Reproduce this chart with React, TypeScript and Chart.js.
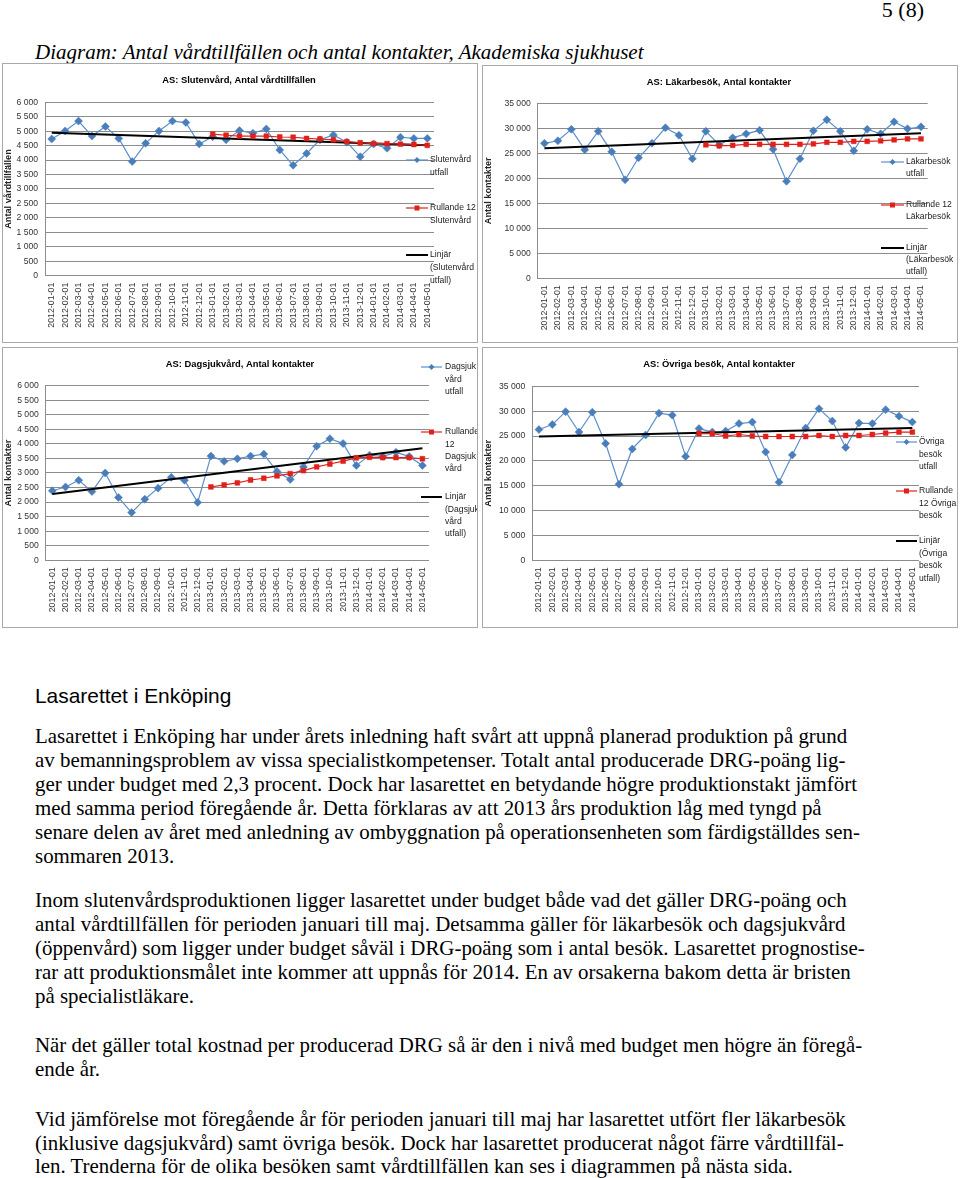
import React, { useEffect, useRef } from 'react';
import { Chart, registerables } from 'chart.js';

Chart.register(...registerables);

// ---------- data ----------
const months = [
  '2012-01-01', '2012-02-01', '2012-03-01', '2012-04-01', '2012-05-01', '2012-06-01',
  '2012-07-01', '2012-08-01', '2012-09-01', '2012-10-01', '2012-11-01', '2012-12-01',
  '2013-01-01', '2013-02-01', '2013-03-01', '2013-04-01', '2013-05-01', '2013-06-01',
  '2013-07-01', '2013-08-01', '2013-09-01', '2013-10-01', '2013-11-01', '2013-12-01',
  '2014-01-01', '2014-02-01', '2014-03-01', '2014-04-01', '2014-05-01',
];
// rolling 12-month values start at 2013-01-01
const rollingStartIndex = 12;

const slutenUtfall = [4730, 5010, 5350, 4830, 5160, 4750, 3950, 4580, 5010, 5350, 5300, 4560, 4810, 4700, 5020, 4930, 5080, 4350, 3820, 4230, 4700, 4870, 4620, 4120, 4560, 4410, 4790, 4750, 4750];
const slutenRullande = [4900, 4860, 4830, 4830, 4830, 4800, 4790, 4750, 4730, 4700, 4640, 4600, 4570, 4570, 4550, 4540, 4510];
const slutenTrend = [4950, 4510];

const lakarUtfall = [27000, 27500, 29800, 25700, 29400, 25300, 19700, 24100, 27000, 30100, 28600, 23900, 29400, 26700, 28100, 28900, 29600, 25800, 19400, 23900, 29500, 31700, 29400, 25500, 29800, 28900, 31300, 29900, 30300];
const lakarRullande = [26700, 26500, 26600, 26800, 26800, 26800, 26800, 26800, 26900, 27200, 27200, 27400, 27400, 27500, 27700, 27900, 27900];
const lakarTrend = [26000, 29000];

const dagsUtfall = [2390, 2520, 2750, 2360, 3000, 2160, 1640, 2100, 2480, 2850, 2750, 1990, 3580, 3400, 3490, 3580, 3650, 3050, 2780, 3210, 3920, 4180, 4010, 3260, 3610, 3570, 3710, 3570, 3260];
const dagsRullande = [2520, 2590, 2660, 2760, 2820, 2900, 2980, 3080, 3210, 3310, 3410, 3520, 3540, 3530, 3530, 3530, 3490];
const dagsTrend = [2280, 3850];

const ovrigaUtfall = [26300, 27300, 29900, 25800, 29800, 23500, 15300, 22400, 25200, 29600, 29200, 20900, 26500, 25800, 26000, 27500, 27800, 21800, 15700, 21200, 26600, 30500, 28000, 22700, 27600, 27500, 30300, 29000, 27800];
const ovrigaRullande = [25500, 25500, 25000, 25300, 25000, 24900, 24900, 24900, 24900, 25100, 24900, 25100, 25100, 25300, 25600, 25800, 25800];
const ovrigaTrend = [24900, 26600];

const titles = [
  'AS: Slutenvård, Antal vårdtillfällen',
  'AS: Läkarbesök, Antal kontakter',
  'AS: Dagsjukvård, Antal kontakter',
  'AS: Övriga besök, Antal kontakter',
];
const yTitles = ['Antal vårdtillfällen', 'Antal kontakter', 'Antal kontakter', 'Antal kontakter'];
const yMaxes = [6000, 35000, 6000, 35000];
const ySteps = [500, 5000, 500, 5000];

const legendLines1 = [['Slutenvård', 'utfall'], ['Rullande 12', 'Slutenvård'], ['Linjär', '(Slutenvård', 'utfall)']];
const legendLines2 = [['Läkarbesök', 'utfall'], ['Rullande 12', 'Läkarbesök'], ['Linjär', '(Läkarbesök', 'utfall)']];
const legendLines3 = [['Dagsjuk', 'vård', 'utfall'], ['Rullande', '12', 'Dagsjuk', 'vård'], ['Linjär', '(Dagsjuk', 'vård', 'utfall)']];
const legendLines4 = [['Övriga', 'besök', 'utfall'], ['Rullande', '12 Övriga', 'besök'], ['Linjär', '(Övriga', 'besök', 'utfall)']];

// ---------- styling / layout ----------
const SANS = "'Liberation Sans', Arial, sans-serif";
const SERIF = "'Liberation Serif', 'Times New Roman', serif";
const BLUE = '#4a7ebb';
const BLUE_LINE = '#5b8fcc';
const RED = '#e0201b';
const GRID = '#8c8c8c';
const TEXT_SIZE = 20.9;

type Box = { x: number; y: number; w: number; h: number };
type Plot = { l: number; t: number; r: number; b: number };
type LegendLayout = { ys: number[]; mx0: number; mx1: number; tx: number; lh: number };
type Spec = {
  box: Box; plot: Plot; titleX: number; titleY: number;
  title: string; yTitle: string; yMax: number; yStep: number;
  utfall: number[]; rullande: number[]; trend: number[];
  legendLines: string[][]; legend: LegendLayout;
};

const specs: Spec[] = [
  {
    box: { x: 2, y: 63, w: 476, h: 280 }, plot: { l: 45, t: 102.3, r: 434, b: 275.7 }, titleX: 239, titleY: 80,
    title: titles[0], yTitle: yTitles[0], yMax: yMaxes[0], yStep: ySteps[0],
    utfall: slutenUtfall, rullande: slutenRullande, trend: slutenTrend, legendLines: legendLines1,
    legend: { ys: [160, 208, 255], mx0: 406, mx1: 428, tx: 430, lh: 12.7 },
  },
  {
    box: { x: 482, y: 65, w: 476, h: 278 }, plot: { l: 537.7, t: 103.3, r: 927.7, b: 278.3 }, titleX: 719, titleY: 82,
    title: titles[1], yTitle: yTitles[1], yMax: yMaxes[1], yStep: ySteps[1],
    utfall: lakarUtfall, rullande: lakarRullande, trend: lakarTrend, legendLines: legendLines2,
    legend: { ys: [162, 205, 248], mx0: 881, mx1: 904, tx: 906, lh: 11.8 },
  },
  {
    box: { x: 2, y: 347, w: 476, h: 281 }, plot: { l: 45.7, t: 385.7, r: 429, b: 560.3 }, titleX: 240, titleY: 364,
    title: titles[2], yTitle: yTitles[2], yMax: yMaxes[2], yStep: ySteps[2],
    utfall: dagsUtfall, rullande: dagsRullande, trend: dagsTrend, legendLines: legendLines3,
    legend: { ys: [367, 432, 497], mx0: 421, mx1: 442, tx: 445, lh: 12.2 },
  },
  {
    box: { x: 482, y: 347, w: 476, h: 281 }, plot: { l: 532.3, t: 386.3, r: 919, b: 560.3 }, titleX: 719, titleY: 364,
    title: titles[3], yTitle: yTitles[3], yMax: yMaxes[3], yStep: ySteps[3],
    utfall: ovrigaUtfall, rullande: ovrigaRullande, trend: ovrigaTrend, legendLines: legendLines4,
    legend: { ys: [442, 491, 541], mx0: 896, mx1: 917, tx: 919, lh: 12.4 },
  },
];

function fmtThousands(n: number): string {
  return String(Math.round(n)).replace(/\B(?=(\d{3})+(?!\d))/g, ' ');
}

function ChartBox({ spec }: { spec: Spec }) {
  const ref = useRef<HTMLCanvasElement | null>(null);
  const cw = spec.box.w - 2;
  const ch = spec.box.h - 2;
  useEffect(() => {
    if (!ref.current) return;
    const ox = spec.box.x + 1;
    const oy = spec.box.y + 1;
    const pl = spec.plot.l - ox;
    const pt = spec.plot.t - oy;
    const pr = spec.plot.r - ox;
    const pb = spec.plot.b - oy;
    const n = months.length;
    const rolling = months.map((_, i) => (i >= rollingStartIndex ? spec.rullande[i - rollingStartIndex] : null));
    const trend = months.map((_, i) => (i === 0 ? spec.trend[0] : i === n - 1 ? spec.trend[1] : null));

    const overlay = {
      id: 'overlay',
      afterDraw(chart: any) {
        const ctx: CanvasRenderingContext2D = chart.ctx;
        ctx.save();
        ctx.fillStyle = '#000';
        ctx.font = `bold 9.4px ${SANS}`;
        ctx.textAlign = 'center';
        ctx.textBaseline = 'middle';
        ctx.fillText(spec.title, spec.titleX - ox, spec.titleY - oy);
        const lg = spec.legend;
        ctx.font = `8.6px ${SANS}`;
        ctx.textAlign = 'left';
        spec.legendLines.forEach((lines, i) => {
          const ds = chart.data.datasets[i];
          const y = lg.ys[i] - oy;
          const x0 = lg.mx0 - ox;
          const x1 = lg.mx1 - ox;
          ctx.strokeStyle = ds.borderColor;
          ctx.lineWidth = ds.borderWidth;
          ctx.beginPath();
          ctx.moveTo(x0, y);
          ctx.lineTo(x1, y);
          ctx.stroke();
          const cx = (x0 + x1) / 2;
          if (ds.pointStyle === 'rectRot') {
            ctx.fillStyle = ds.pointBackgroundColor;
            ctx.beginPath();
            ctx.moveTo(cx, y - 3);
            ctx.lineTo(cx + 3, y);
            ctx.lineTo(cx, y + 3);
            ctx.lineTo(cx - 3, y);
            ctx.closePath();
            ctx.fill();
          } else if (ds.pointStyle === 'rect' && ds.pointRadius > 0) {
            ctx.fillStyle = ds.pointBackgroundColor;
            ctx.fillRect(cx - 2.5, y - 2.5, 5, 5);
          }
          ctx.fillStyle = '#222';
          lines.forEach((t, k) => ctx.fillText(t, lg.tx - ox, y + k * lg.lh));
        });
        ctx.restore();
      },
    };

    const chart = new Chart(ref.current, {
      type: 'line',
      data: {
        labels: months,
        datasets: [
          {
            label: spec.legendLines[0].join(' '),
            data: spec.utfall,
            borderColor: BLUE_LINE,
            borderWidth: 1.2,
            pointStyle: 'rectRot',
            pointRadius: 4,
            pointBackgroundColor: BLUE,
            pointBorderColor: BLUE,
            pointBorderWidth: 0.5,
            order: 3,
          } as any,
          {
            label: spec.legendLines[1].join(' '),
            data: rolling,
            borderColor: RED,
            borderWidth: 1.2,
            pointStyle: 'rect',
            pointRadius: 3.4,
            pointBackgroundColor: RED,
            pointBorderColor: RED,
            pointBorderWidth: 0.5,
            order: 1,
          } as any,
          {
            label: spec.legendLines[2].join(' '),
            data: trend,
            borderColor: '#000',
            borderWidth: 2,
            pointRadius: 0,
            pointStyle: 'line',
            spanGaps: true,
            order: 2,
          } as any,
        ],
      },
      options: {
        responsive: false,
        animation: false,
        events: [],
        layout: { padding: { left: 0, top: pt, right: cw - pr, bottom: 0 } },
        plugins: {
          legend: { display: false },
          tooltip: { enabled: false },
          title: { display: false },
        },
        scales: {
          x: {
            type: 'category',
            offset: true,
            grid: { display: false, drawTicks: false },
            border: { display: false },
            ticks: {
              autoSkip: false,
              maxRotation: 90,
              minRotation: 90,
              padding: 7,
              color: '#333',
              font: { family: SANS, size: 8.8 },
            },
            afterFit: (s: any) => { s.height = ch - pb; },
          },
          y: {
            min: 0,
            max: spec.yMax,
            grid: { color: GRID, lineWidth: 1, drawTicks: false },
            border: { display: true, color: GRID, width: 1 },
            ticks: {
              stepSize: spec.yStep,
              padding: 7,
              color: '#333',
              font: { family: SANS, size: 8.6 },
              callback: (v: any) => fmtThousands(Number(v)),
            },
            title: {
              display: true,
              text: spec.yTitle,
              color: '#222',
              font: { family: SANS, size: 9.2, weight: 'bold' },
              padding: { top: 0, bottom: 0 },
            },
            afterFit: (s: any) => { s.width = pl; },
          },
        },
      } as any,
      plugins: [overlay],
    });
    return () => chart.destroy();
  }, [spec]);

  return (
    <div
      style={{
        position: 'absolute',
        left: spec.box.x,
        top: spec.box.y,
        width: spec.box.w,
        height: spec.box.h,
        border: '1px solid #a8a8a8',
        boxSizing: 'border-box',
        background: '#fff',
      }}
    >
      <canvas ref={ref} width={cw} height={ch} style={{ position: 'absolute', left: 0, top: 0, width: cw, height: ch }} />
    </div>
  );
}

const heading = 'Lasarettet i Enköping';
const para1 = [
  'Lasarettet i Enköping har under årets inledning haft svårt att uppnå planerad produktion på grund',
  'av bemanningsproblem av vissa specialistkompetenser. Totalt antal producerade DRG-poäng lig-',
  'ger under budget med 2,3 procent. Dock har lasarettet en betydande högre produktionstakt jämfört',
  'med samma period föregående år. Detta förklaras av att 2013 års produktion låg med tyngd på',
  'senare delen av året med anledning av ombyggnation på operationsenheten som färdigställdes sen-',
  'sommaren 2013.',
];
const para2 = [
  'Inom slutenvårdsproduktionen ligger lasarettet under budget både vad det gäller DRG-poäng och',
  'antal vårdtillfällen för perioden januari till maj. Detsamma gäller för läkarbesök och dagsjukvård',
  '(öppenvård) som ligger under budget såväl i DRG-poäng som i antal besök. Lasarettet prognostise-',
  'rar att produktionsmålet inte kommer att uppnås för 2014. En av orsakerna bakom detta är bristen',
  'på specialistläkare.',
];
const para3 = [
  'När det gäller total kostnad per producerad DRG så är den i nivå med budget men högre än föregå-',
  'ende år.',
];
const para4 = [
  'Vid jämförelse mot föregående år för perioden januari till maj har lasarettet utfört fler läkarbesök',
  '(inklusive dagsjukvård) samt övriga besök. Dock har lasarettet producerat något färre vårdtillfäl-',
  'len. Trenderna för de olika besöken samt vårdtillfällen kan ses i diagrammen på nästa sida.',
];

function Para({ lines, top, lh }: { lines: string[]; top: number; lh: number }) {
  return (
    <div style={{ position: 'absolute', left: 35, top, fontFamily: SERIF, fontSize: TEXT_SIZE, lineHeight: `${lh}px`, whiteSpace: 'nowrap', color: '#000' }}>
      {lines.map((l, i) => (
        <div key={i}>{l}</div>
      ))}
    </div>
  );
}

export default function App() {
  return (
    <div style={{ position: 'absolute', left: 0, top: 0, width: 960, height: 1178, background: '#fff', overflow: 'hidden' }}>
      <div style={{ position: 'absolute', right: 36, top: -2, fontFamily: SERIF, fontSize: 22, lineHeight: '24px' }}>5 (8)</div>
      <div style={{ position: 'absolute', left: 35, top: 40, fontFamily: SERIF, fontStyle: 'italic', fontSize: 21, lineHeight: '24px', whiteSpace: 'nowrap' }}>
        Diagram: Antal vårdtillfällen och antal kontakter, Akademiska sjukhuset
      </div>
      {specs.map((s, i) => (
        <ChartBox key={i} spec={s} />
      ))}
      <div style={{ position: 'absolute', left: 35, top: 684, fontFamily: SANS, fontSize: TEXT_SIZE, lineHeight: '24px', whiteSpace: 'nowrap' }}>
        {heading}
      </div>
      <Para lines={para1} top={724} lh={24} />
      <Para lines={para2} top={888} lh={24} />
      <Para lines={para3} top={1033} lh={24} />
      <Para lines={para4} top={1108} lh={23.5} />
    </div>
  );
}
